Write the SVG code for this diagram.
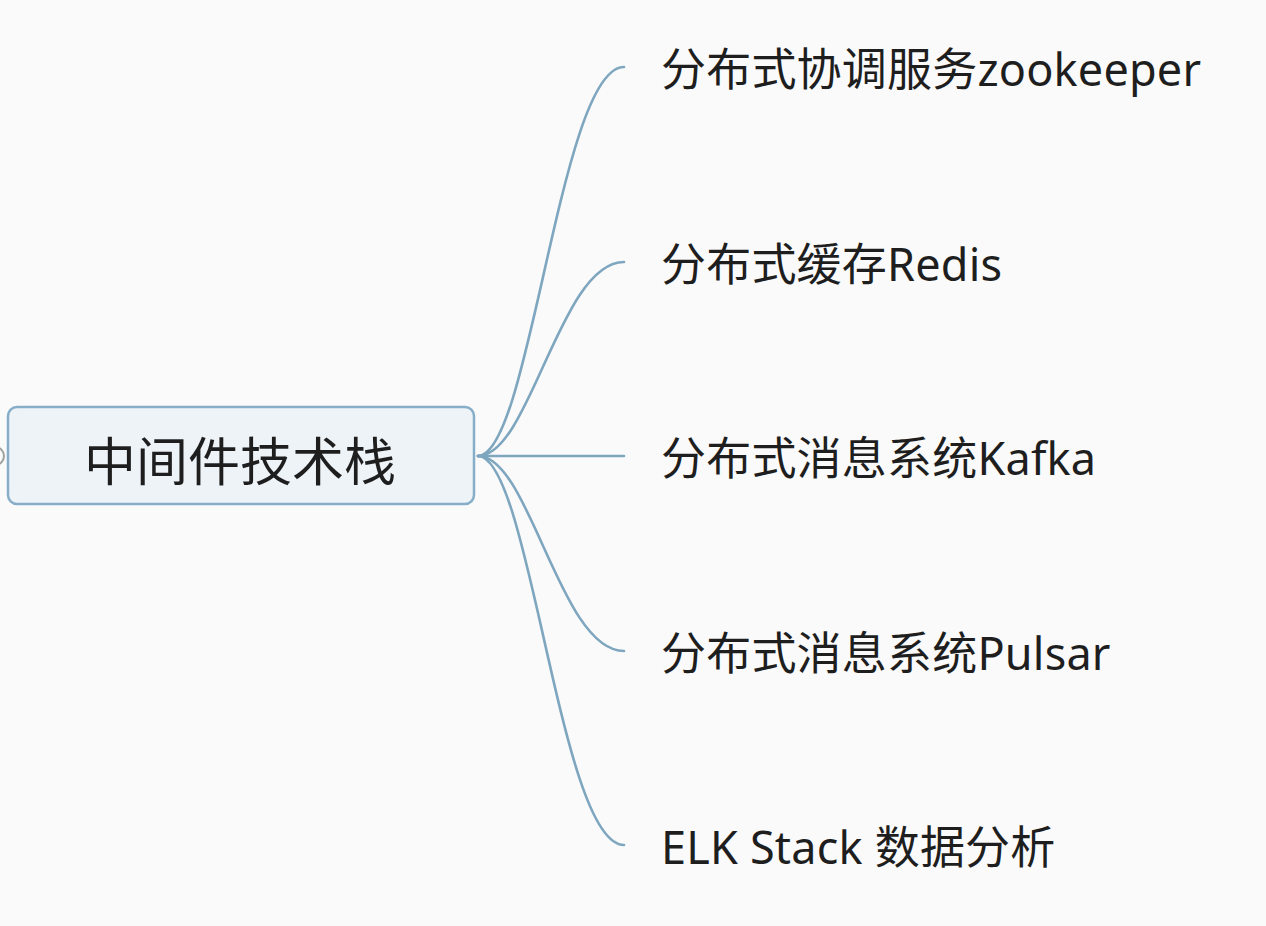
<svg xmlns="http://www.w3.org/2000/svg" width="1266" height="926" viewBox="0 0 1266 926">
<style>
.bg{fill:#fafafa}
.conn path{fill:none;stroke:#7fa6bf;stroke-width:2.6;stroke-linecap:round}
.root{fill:#eef3f8;stroke:#86aec8;stroke-width:2.5}
.t{font-family:"Microsoft YaHei","Noto Sans","Noto Sans CJK SC",sans-serif;fill:#1e1e1e}
.leaf{font-size:45px;letter-spacing:0.2px}
.main{font-size:52px}
</style>
<rect class="bg" x="0" y="0" width="1266" height="926"/>
<g id="collapse"><circle cx="-5" cy="456" r="9" fill="none" stroke="#a0a0a0" stroke-width="2"/></g>
<g class="conn" id="connectors">
<path d="M478,456 C530,456 560,67 624,67"/>
<path d="M478,456 C530,456 560,262 624,262"/>
<path d="M478,456 L624,456"/>
<path d="M478,456 C530,456 560,651 624,651"/>
<path d="M478,456 C530,456 560,845 624,845"/>
</g>
<g id="root">
<rect class="root" x="8" y="407" width="466" height="97" rx="9"/>
<text class="t main" x="240" y="481" text-anchor="middle">中间件技术栈</text>
</g>
<g id="n1"><text class="t leaf" x="661" y="86">分布式协调服务zookeeper</text></g>
<g id="n2"><text class="t leaf" x="661" y="281">分布式缓存Redis</text></g>
<g id="n3"><text class="t leaf" x="661" y="475">分布式消息系统Kafka</text></g>
<g id="n4"><text class="t leaf" x="661" y="670">分布式消息系统Pulsar</text></g>
<g id="n5"><text class="t leaf" x="661" y="864">ELK Stack 数据分析</text></g>
</svg>
